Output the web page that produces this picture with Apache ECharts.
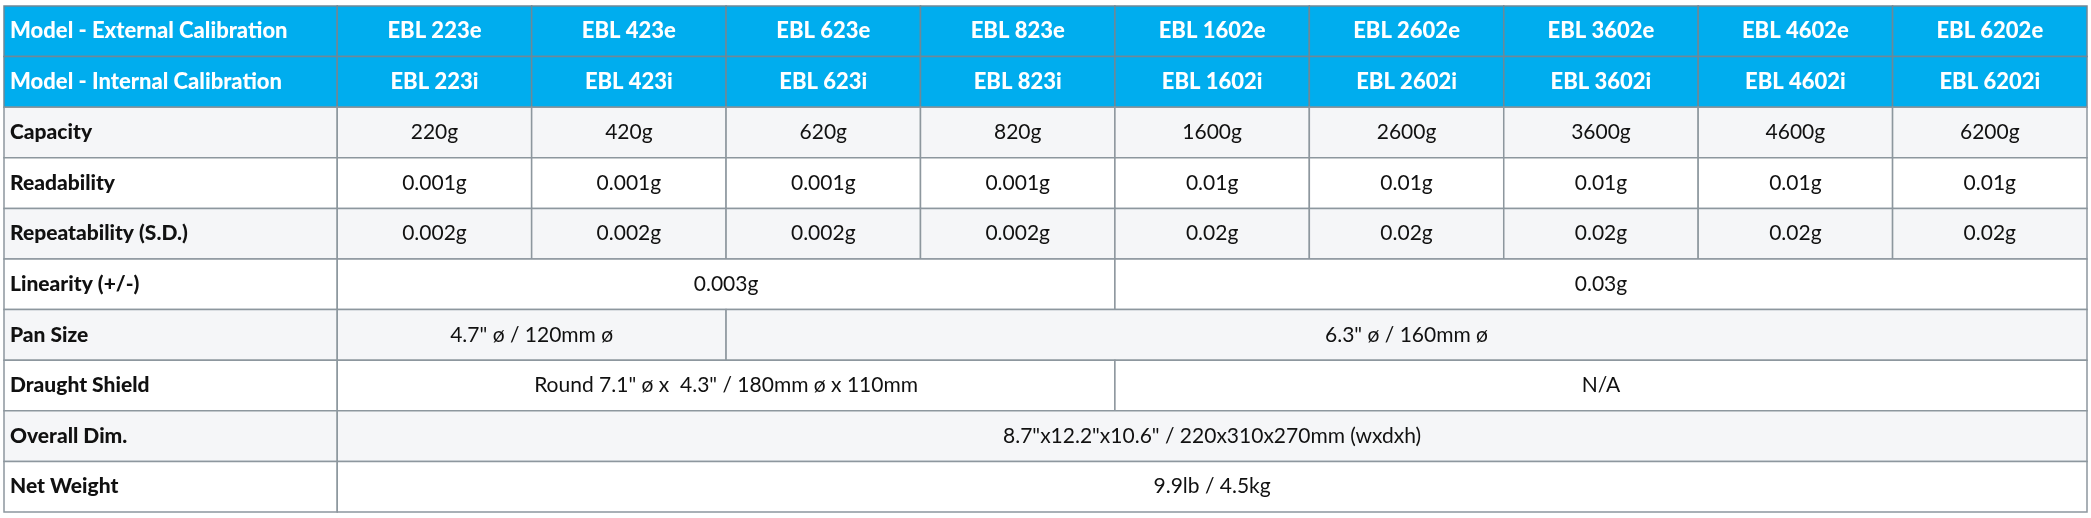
<!DOCTYPE html>
<html><head><meta charset="utf-8">
<script src="https://cdn.jsdelivr.net/npm/echarts@6/dist/echarts.min.js"></script>
<style>html,body{margin:0;padding:0;background:#fff}#c{width:2091px;height:518px}</style>
</head><body><div id="c"></div>
<script>
const rowLabels = ["Model - External Calibration","Model - Internal Calibration","Capacity","Readability","Repeatability (S.D.)","Linearity (+/-)","Pan Size","Draught Shield","Overall Dim.","Net Weight"];
const modelsExternal = ["EBL 223e","EBL 423e","EBL 623e","EBL 823e","EBL 1602e","EBL 2602e","EBL 3602e","EBL 4602e","EBL 6202e"];
const modelsInternal = ["EBL 223i","EBL 423i","EBL 623i","EBL 823i","EBL 1602i","EBL 2602i","EBL 3602i","EBL 4602i","EBL 6202i"];
const capacity = ["220g","420g","620g","820g","1600g","2600g","3600g","4600g","6200g"];
const readability = ["0.001g","0.001g","0.001g","0.001g","0.01g","0.01g","0.01g","0.01g","0.01g"];
const repeatability = ["0.002g","0.002g","0.002g","0.002g","0.02g","0.02g","0.02g","0.02g","0.02g"];
// merged rows: [text, column span]
const linearity = [["0.003g",4],["0.03g",5]];
const panSize = [["4.7\" ø / 120mm ø",2],["6.3\" ø / 160mm ø",7]];
const draughtShield = [["Round 7.1\" ø x  4.3\" / 180mm ø x 110mm",4],["N/A",5]];
const overallDim = [["8.7\"x12.2\"x10.6\" / 220x310x270mm (wxdxh)",9]];
const netWeight = [["9.9lb / 4.5kg",9]];

const LABELW = 1.714;
const single = a => a.map(t => [t,1]);
const rowsData = [single(modelsExternal), single(modelsInternal), single(capacity), single(readability), single(repeatability), linearity, panSize, draughtShield, overallDim, netWeight];

const cells = [];
rowsData.forEach((row, r) => {
  cells.push([0, LABELW, r, rowLabels[r], 1]);
  let c = 0;
  row.forEach(([t, s]) => { cells.push([LABELW + c, LABELW + c + s, r, t, 0]); c += s; });
});

const chart = echarts.init(document.getElementById('c'));
chart.setOption({
  animation:false,
  grid:{left:4,right:4,top:6,bottom:6},
  xAxis:{type:'value',min:0,max:LABELW+9,show:false},
  yAxis:{type:'category',data:rowLabels,inverse:true,show:false},
  series:[{
    type:'custom',
    data:cells,
    encode:{x:[0,1],y:2},
    renderItem:(params, api) => {
      const x0 = api.value(0), x1 = api.value(1), r = api.value(2);
      const text = cells[params.dataIndex][3], isLabel = api.value(4) === 1;
      const p0 = api.coord([x0, r]), p1 = api.coord([x1, r]);
      const h = api.size([0,1])[1];
      const header = r < 2;
      const bg = header ? '#00adee' : (r % 2 === 0 ? '#f5f6f8' : '#ffffff');
      const top = p0[1] - h/2;
      return {type:'group', children:[
        {type:'rect', shape:{x:p0[0], y:top, width:p1[0]-p0[0], height:h},
         style:{fill:bg, stroke:header ? '#6f8896' : '#8d979e', lineWidth:1.5}},
        {type:'text', style:{
          text:text,
          x: isLabel ? p0[0]+6 : (p0[0]+p1[0])/2,
          y: p0[1],
          align: isLabel ? 'left' : 'center', verticalAlign:'middle',
          fill: header ? '#ffffff' : '#111111',
          font: ((header || isLabel) ? '900 ' : '') + (header ? '22px' : '21px') + ' Lato, "Open Sans", sans-serif'
        }}
      ]};
    }
  }]
});
</script></body></html>
